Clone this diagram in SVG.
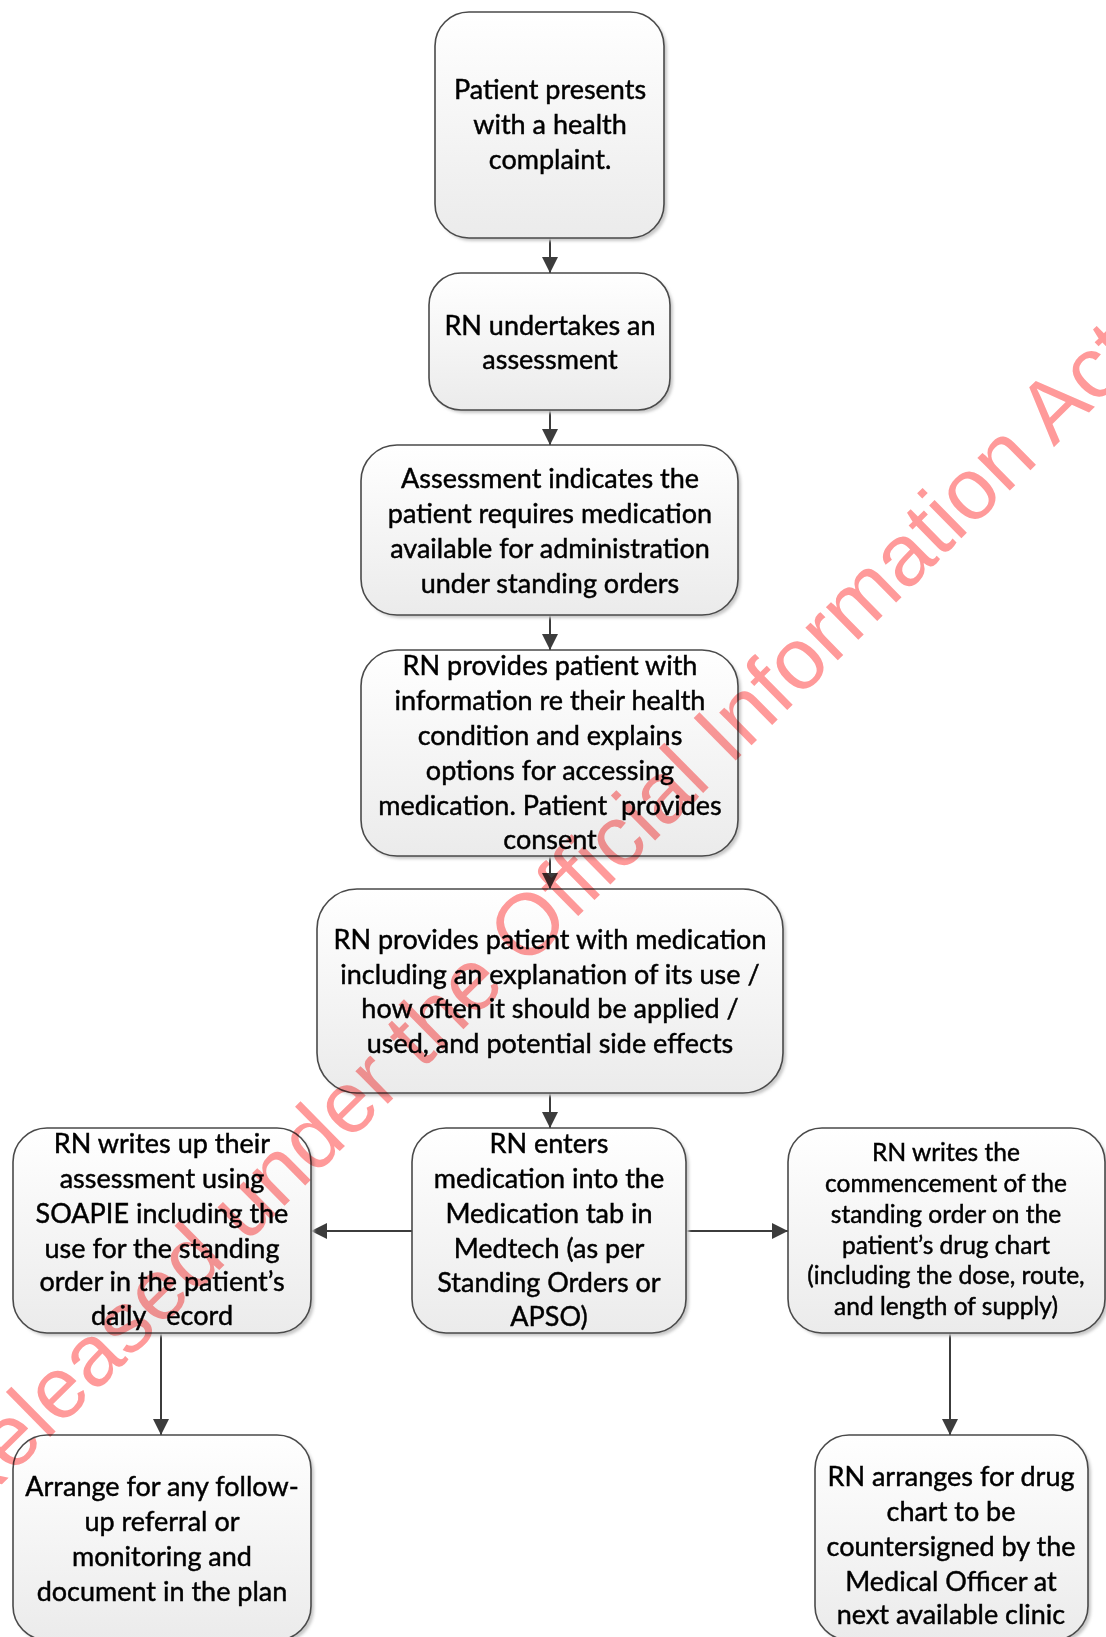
<svg xmlns="http://www.w3.org/2000/svg" width="1106" height="1637" viewBox="0 0 1106 1637">
  <defs>
    <linearGradient id="boxFill" x1="0" y1="0" x2="0" y2="1">
      <stop offset="0" stop-color="#ffffff"/>
      <stop offset="1" stop-color="#ebebeb"/>
    </linearGradient>
    <filter id="soft" x="-10%" y="-10%" width="120%" height="120%">
      <feGaussianBlur stdDeviation="1.5"/>
    </filter>
    <marker id="arrow" viewBox="0 0 16 16" refX="16" refY="8" markerWidth="16" markerHeight="16" markerUnits="userSpaceOnUse" orient="auto">
      <path d="M0,0 L16,8 L0,16 Z" fill="#3c3c3c"/>
    </marker>
  </defs>
  <style>
    .shadow { fill: #c8c8c8; filter: url(#soft); }
    .box { fill: url(#boxFill); stroke: #4a4a4a; stroke-width: 1.6; }
    .label { font-family: Lato, "Liberation Sans", sans-serif; font-size: 27px; fill: #000; stroke: #000; stroke-width: 0.45; text-anchor: middle; }
    .small { font-size: 24.5px; }
    .conn { stroke: #3c3c3c; stroke-width: 2; fill: none; marker-end: url(#arrow); }
    .mark { font-family: "Liberation Sans", Arial, sans-serif; font-size: 87px; fill: #ff9a9a; mix-blend-mode: multiply; text-anchor: middle; }
  </style>
  <rect width="1106" height="1637" fill="#ffffff"/>

  <g id="connectors">
    <line class="conn" x1="550" y1="238" x2="550" y2="273"/>
    <line class="conn" x1="550" y1="410" x2="550" y2="445"/>
    <line class="conn" x1="550" y1="615" x2="550" y2="650"/>
    <line class="conn" x1="550" y1="856" x2="550" y2="889"/>
    <line class="conn" x1="550" y1="1093" x2="550" y2="1128"/>
    <line class="conn" x1="412" y1="1231" x2="311" y2="1231"/>
    <line class="conn" x1="686" y1="1231" x2="788" y2="1231"/>
    <line class="conn" x1="161" y1="1333" x2="161" y2="1435"/>
    <line class="conn" x1="950" y1="1333" x2="950" y2="1435"/>
  </g>

  <g id="n1">
    <rect class="shadow" x="438" y="15" width="229" height="226" rx="34"/>
    <rect class="box" x="435" y="12" width="229" height="226" rx="34"/>
    <text class="label" x="550" y="99">Patient presents</text>
    <text class="label" x="550" y="134">with a health</text>
    <text class="label" x="550" y="169">complaint.</text>
  </g>

  <g id="n2">
    <rect class="shadow" x="432" y="276" width="241" height="137" rx="32"/>
    <rect class="box" x="429" y="273" width="241" height="137" rx="32"/>
    <text class="label" x="550" y="335">RN undertakes an</text>
    <text class="label" x="550" y="369">assessment</text>
  </g>

  <g id="n3">
    <rect class="shadow" x="364" y="448" width="377" height="170" rx="36"/>
    <rect class="box" x="361" y="445" width="377" height="170" rx="36"/>
    <text class="label" x="550" y="488">Assessment indicates the</text>
    <text class="label" x="550" y="523">patient requires medication</text>
    <text class="label" x="550" y="558">available for administration</text>
    <text class="label" x="550" y="593">under standing orders</text>
  </g>

  <g id="n4">
    <rect class="shadow" x="364" y="653" width="377" height="206" rx="36"/>
    <rect class="box" x="361" y="650" width="377" height="206" rx="36"/>
    <text class="label" x="550" y="675">RN provides patient with</text>
    <text class="label" x="550" y="710">information re their health</text>
    <text class="label" x="550" y="745">condition and explains</text>
    <text class="label" x="550" y="780">options for accessing</text>
    <text class="label" x="550" y="815" style="white-space:pre">medication. Patient  provides</text>
    <text class="label" x="550" y="849">consent</text>
  </g>

  <g id="n5">
    <rect class="shadow" x="320" y="892" width="466" height="204" rx="40"/>
    <rect class="box" x="317" y="889" width="466" height="204" rx="40"/>
    <text class="label" x="550" y="949">RN provides patient with medication</text>
    <text class="label" x="550" y="984">including an explanation of its use /</text>
    <text class="label" x="550" y="1018">how often it should be applied /</text>
    <text class="label" x="550" y="1053">used, and potential side effects</text>
  </g>

  <g id="n6">
    <rect class="shadow" x="16" y="1131" width="298" height="205" rx="34"/>
    <rect class="box" x="13" y="1128" width="298" height="205" rx="34"/>
    <text class="label" x="162" y="1153">RN writes up their</text>
    <text class="label" x="162" y="1188">assessment using</text>
    <text class="label" x="162" y="1223">SOAPIE including the</text>
    <text class="label" x="162" y="1258">use for the standing</text>
    <text class="label" x="162" y="1291">order in the patient’s</text>
    <text class="label" x="162" y="1325" style="white-space:pre">daily   ecord</text>
  </g>

  <g id="n7">
    <rect class="shadow" x="415" y="1131" width="274" height="205" rx="34"/>
    <rect class="box" x="412" y="1128" width="274" height="205" rx="34"/>
    <text class="label" x="549" y="1153">RN enters</text>
    <text class="label" x="549" y="1188">medication into the</text>
    <text class="label" x="549" y="1223">Medication tab in</text>
    <text class="label" x="549" y="1258">Medtech (as per</text>
    <text class="label" x="549" y="1292">Standing Orders or</text>
    <text class="label" x="549" y="1326">APSO)</text>
  </g>

  <g id="n8">
    <rect class="shadow" x="791" y="1131" width="317" height="205" rx="34"/>
    <rect class="box" x="788" y="1128" width="317" height="205" rx="34"/>
    <text class="label small" x="946" y="1161">RN writes the</text>
    <text class="label small" x="946" y="1192">commencement of the</text>
    <text class="label small" x="946" y="1223">standing order on the</text>
    <text class="label small" x="946" y="1254">patient’s drug chart</text>
    <text class="label small" x="946" y="1284">(including the dose, route,</text>
    <text class="label small" x="946" y="1315">and length of supply)</text>
  </g>

  <g id="n9">
    <rect class="shadow" x="16" y="1438" width="298" height="205" rx="34"/>
    <rect class="box" x="13" y="1435" width="298" height="205" rx="34"/>
    <text class="label" x="162" y="1496">Arrange for any follow-</text>
    <text class="label" x="162" y="1531">up referral or</text>
    <text class="label" x="162" y="1566">monitoring and</text>
    <text class="label" x="162" y="1601">document in the plan</text>
  </g>

  <g id="n10">
    <rect class="shadow" x="818" y="1438" width="273" height="205" rx="34"/>
    <rect class="box" x="815" y="1435" width="273" height="205" rx="34"/>
    <text class="label" x="951" y="1486">RN arranges for drug</text>
    <text class="label" x="951" y="1521">chart to be</text>
    <text class="label" x="951" y="1556">countersigned by the</text>
    <text class="label" x="951" y="1591">Medical Officer at</text>
    <text class="label" x="951" y="1624">next available clinic</text>
  </g>

  <!-- release stamp across the page -->
  <text class="mark" x="555" y="939" transform="rotate(-44.6 555 939)">Released under the Official Information Act</text>
</svg>
